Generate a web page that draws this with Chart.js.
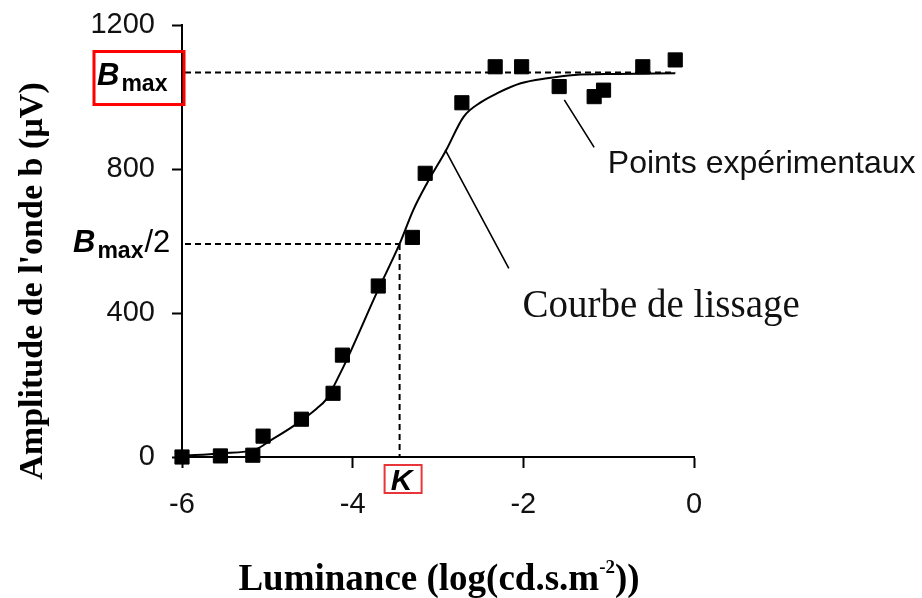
<!DOCTYPE html>
<html>
<head>
<meta charset="utf-8">
<script src="https://cdn.jsdelivr.net/npm/chart.js@4.4.1/dist/chart.umd.min.js"></script>
<style>
  html, body { margin: 0; padding: 0; background: #fff; }
  #chart { display: block; }
</style>
</head>
<body>
<canvas id="chart" width="922" height="598"></canvas>
<script>
// measured points (log luminance, b-wave amplitude in µV)
const pointLum = [-6.0, -5.55, -5.17, -5.05, -4.60, -4.23, -4.12, -3.70, -3.30, -3.15, -2.72, -2.33, -2.02, -1.58, -1.17, -1.06, -0.60, -0.22]
const pointAmp = [0, 3, 5, 58, 105, 177, 283, 475, 610, 788, 984, 1084, 1084, 1029, 1001, 1019, 1084, 1103]

// fitted curve, sampled along its length
const curveLum = [-6.0, -5.55, -5.13, -4.97, -4.70, -4.42, -4.31, -4.13, -4.03, -3.72, -3.45, -3.29, -3.13, -2.91, -2.70, -2.50, -2.31, -2.03, -1.72, -1.40, -0.90, -0.22]
const curveAmp = [4, 10, 22, 45, 85, 135, 160, 240, 290, 455, 592, 686, 760, 850, 945, 985, 1010, 1038, 1052, 1061, 1064, 1066]

const xTicks = [-6, -4, -2, 0]
const yTicks = [0, 400, 800, 1200]

const bMax = 1068
const halfLevel = 592
const kLum = -3.45
const bMaxLineEnd = -0.22

const pointerCurve = [[-2.915, 853], [-2.17, 524]]
const pointerPoints = [[-1.52, 992], [-1.17, 860]]
const labelCurve = {text: 'Courbe de lissage', at: [-2.01, 390]}
const labelPoints = {text: 'Points expérimentaux', at: [-1.01, 788]}

const SANS = "'Liberation Sans', Arial, sans-serif"
const SERIF = "'Liberation Serif', 'Times New Roman', serif"

// B + "max" subscript, returns end x
function drawBmax(ctx, x, y) {
    ctx.font = 'italic bold 31px ' + SANS
    ctx.fillText('B', x, y)
    x += ctx.measureText('B').width + 2
    ctx.font = 'bold 23px ' + SANS
    ctx.fillText('max', x, y + 6)
    return x + ctx.measureText('max').width
}

const overlay = {
    id: 'overlay',
    beforeDatasetsDraw(chart) {
        const {ctx, scales: {x, y}} = chart
        ctx.save()
        ctx.strokeStyle = '#000'
        ctx.lineWidth = 2
        ctx.setLineDash([6, 4])
        ctx.beginPath()
        ctx.moveTo(x.getPixelForValue(-6) + 3, y.getPixelForValue(bMax))
        ctx.lineTo(x.getPixelForValue(bMaxLineEnd), y.getPixelForValue(bMax))
        ctx.moveTo(x.getPixelForValue(-6) + 3, y.getPixelForValue(halfLevel))
        ctx.lineTo(x.getPixelForValue(kLum), y.getPixelForValue(halfLevel))
        ctx.moveTo(x.getPixelForValue(kLum), y.getPixelForValue(halfLevel))
        ctx.lineTo(x.getPixelForValue(kLum), y.getPixelForValue(0))
        ctx.stroke()

        // leader lines to the text labels
        ctx.setLineDash([])
        ctx.lineWidth = 1.6
        ctx.beginPath()
        ;[pointerCurve, pointerPoints].forEach(p => {
            ctx.moveTo(x.getPixelForValue(p[0][0]), y.getPixelForValue(p[0][1]))
            ctx.lineTo(x.getPixelForValue(p[1][0]), y.getPixelForValue(p[1][1]))
        })
        ctx.stroke()
        ctx.restore()
    },
    afterDraw(chart) {
        const {ctx, scales: {x, y}} = chart
        ctx.save()
        ctx.fillStyle = '#111'
        ctx.textBaseline = 'alphabetic'
        ctx.textAlign = 'left'

        ctx.font = '39px ' + SERIF
        ctx.fillText(labelCurve.text, x.getPixelForValue(labelCurve.at[0]), y.getPixelForValue(labelCurve.at[1]))
        ctx.font = '32px ' + SANS
        ctx.fillText(labelPoints.text, x.getPixelForValue(labelPoints.at[0]), y.getPixelForValue(labelPoints.at[1]))

        // Bmax in its red box
        const yMax = y.getPixelForValue(bMax)
        ctx.fillStyle = '#000'
        drawBmax(ctx, 97, yMax + 12)
        ctx.strokeStyle = '#f00'
        ctx.lineWidth = 3
        ctx.strokeRect(94, yMax - 21, 90, 53)

        // Bmax/2
        const yHalf = y.getPixelForValue(halfLevel)
        let ex = drawBmax(ctx, 73, yHalf + 8)
        ctx.font = '31px ' + SANS
        ctx.fillText('/2', ex + 1, yHalf + 8)

        // K under the axis
        const xK = x.getPixelForValue(kLum)
        ctx.font = 'italic bold 30px ' + SANS
        ctx.textAlign = 'center'
        ctx.fillText('K', xK + 2, 490)
        ctx.strokeStyle = '#e8353a'
        ctx.lineWidth = 2
        ctx.strokeRect(xK - 15, 465, 37, 28)

        // axis titles
        ctx.fillStyle = '#000'
        ctx.font = 'bold 34px ' + SERIF
        ctx.save()
        ctx.translate(42, 281)
        ctx.rotate(-Math.PI / 2)
        ctx.textAlign = 'center'
        ctx.fillText("Amplitude de l'onde b (µV)", 0, 0)
        ctx.restore()

        const main = 'Luminance (log(cd.s.m'
        const tail = '))'
        ctx.textAlign = 'left'
        ctx.font = 'bold 37px ' + SERIF
        const w1 = ctx.measureText(main).width
        const w3 = ctx.measureText(tail).width
        ctx.font = 'bold 19px ' + SERIF
        const w2 = ctx.measureText('-2').width
        let tx = 439 - (w1 + w2 + w3) / 2
        ctx.font = 'bold 37px ' + SERIF
        ctx.fillText(main, tx, 590)
        ctx.font = 'bold 19px ' + SERIF
        ctx.fillText('-2', tx + w1, 573)
        ctx.font = 'bold 37px ' + SERIF
        ctx.fillText(tail, tx + w1 + w2, 590)
        ctx.restore()
    }
}

const tickFont = {family: SANS, size: 29}

new Chart(document.getElementById('chart'), {
    data: {
        datasets: [
            {
                type: 'line',
                label: 'Courbe de lissage',
                data: curveLum.map((v, i) => ({x: v, y: curveAmp[i]})),
                borderColor: '#000',
                borderWidth: 2,
                pointRadius: 0,
                cubicInterpolationMode: 'monotone',
                fill: false,
                order: 2
            },
            {
                type: 'scatter',
                label: 'Points expérimentaux',
                data: pointLum.map((v, i) => ({x: v, y: pointAmp[i]})),
                pointStyle: 'rect',
                pointRadius: 10,
                borderWidth: 1,
                backgroundColor: '#000',
                borderColor: '#000',
                clip: false,
                order: 1
            }
        ]
    },
    options: {
        responsive: false,
        devicePixelRatio: 1,
        animation: false,
        layout: {padding: {top: 25, right: 228, left: 0, bottom: 0}},
        plugins: {legend: {display: false}, tooltip: {enabled: false}},
        scales: {
            x: {
                type: 'linear',
                min: -6,
                max: 0,
                afterFit: s => {
                    s.height = 141
                    s.paddingLeft = 0
                    s.paddingRight = 0
                },
                afterBuildTicks: s => { s.ticks = xTicks.map(v => ({value: v})) },
                ticks: {font: tickFont, color: '#111', padding: 20, maxRotation: 0, callback: v => String(v)},
                grid: {drawOnChartArea: false, tickLength: 11, tickWidth: 2, tickColor: '#000'},
                border: {color: '#000', width: 2}
            },
            y: {
                type: 'linear',
                min: 0,
                max: 1200,
                afterFit: s => {
                    s.width = 182
                    s.paddingTop = 0
                    s.paddingBottom = 0
                },
                afterBuildTicks: s => { s.ticks = yTicks.map(v => ({value: v})) },
                ticks: {font: tickFont, color: '#111', padding: 17, callback: v => String(v)},
                grid: {drawOnChartArea: false, tickLength: 10, tickWidth: 2, tickColor: '#000'},
                border: {color: '#000', width: 2}
            }
        }
    },
    plugins: [overlay]
})
</script>
</body>
</html>
